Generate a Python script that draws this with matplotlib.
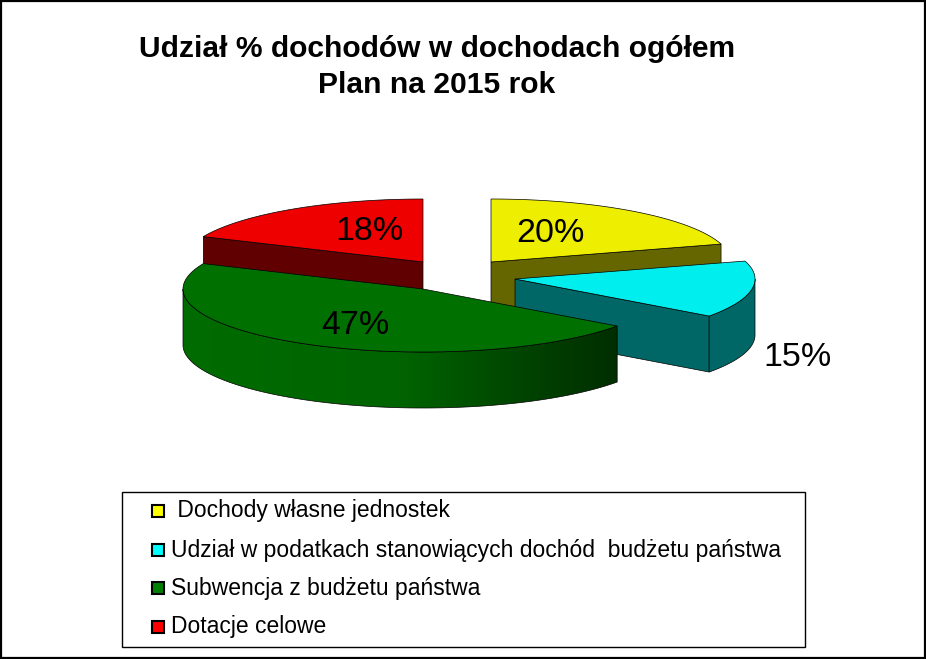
import numpy as np
import matplotlib
matplotlib.use("Agg")
import matplotlib.pyplot as plt
from matplotlib.colors import LinearSegmentedColormap
from matplotlib.patches import Polygon, Rectangle

plt.rcParams["font.family"] = ["Liberation Sans", "DejaVu Sans"]

title_lines = ["Udział % dochodów w dochodach ogółem", "Plan na 2015 rok"]
labels = [
    " Dochody własne jednostek",
    "Udział w podatkach stanowiących dochód  budżetu państwa",
    "Subwencja z budżetu państwa",
    "Dotacje celowe",
]
shares = [20.4, 14.6, 46.6, 18.4]
top_colors = ["#eeee00", "#00eeee", "#007000", "#ee0000"]
wall_colors = ["#666600", "#006666", "#006c00", "#600000"]
swatch_colors = ["#ffff00", "#00ffff", "#008000", "#ff0000"]

# pie geometry, in pixels of the output image
RX, RY = 240, 63
DEPTH = 56
centers = [(491, 262), (515, 279), (423, 289), (423, 262)]
pct_pos = [(550, 233), (797, 357), (355, 326), (369, 232)]
draw_order = [3, 0, 1, 2]


def arc(center, start, stop):
    # angles in degrees, clockwise from the top of the ellipse
    t = np.radians(np.linspace(start, stop, 120))
    return np.column_stack([center[0] + RX * np.sin(t), center[1] - RY * np.cos(t)])


def wall_between(ax, pts, color):
    lowered = pts[::-1] + [0, DEPTH]
    poly = Polygon(np.vstack([pts, lowered]), closed=True, facecolor=color,
                   edgecolor="black", linewidth=0.5)
    ax.add_patch(poly)
    return poly


def draw_slice(ax, i, start, stop):
    center = centers[i]
    # flat cut faces that look towards the viewer
    for angle, visible in ((start, np.sin(np.radians(start)) < -1e-6),
                           (stop, np.sin(np.radians(stop)) > 1e-6)):
        if visible:
            edge = np.array([center, arc(center, angle, angle)[0]], dtype=float)
            wall_between(ax, edge, wall_colors[i])

    # rim, only the front half of the ellipse shows
    lo, hi = max(start, 90), min(stop, 270)
    if lo < hi:
        pts = arc(center, lo, hi)
        if i == 2:
            poly = wall_between(ax, pts, "none")
            shade = LinearSegmentedColormap.from_list(
                "rim", [(0, "#006c00"), (0.5, "#006400"), (0.8, "#004200"), (1, "#002e00")])
            x0, x1 = pts[:, 0].min(), pts[:, 0].max()
            y0, y1 = pts[:, 1].min(), pts[:, 1].max() + DEPTH
            img = ax.imshow(np.linspace(0, 1, 256)[None, :], cmap=shade, aspect="auto",
                            extent=(x0, x1, y1, y0), zorder=poly.get_zorder())
            img.set_clip_path(poly)
            poly.set_zorder(poly.get_zorder() + 0.01)
        else:
            wall_between(ax, pts, wall_colors[i])

    top = np.vstack([[center], arc(center, start, stop)])
    z = 2 + i * 0.1
    ax.add_patch(Polygon(top, closed=True, facecolor=top_colors[i], edgecolor="black",
                         linewidth=0.5, zorder=z))


def main():
    fig = plt.figure(figsize=(9.26, 6.59), dpi=100)
    ax = fig.add_axes([0, 0, 1, 1])
    ax.set_xlim(0, 926)
    ax.set_ylim(659, 0)
    ax.axis("off")

    ax.add_patch(Rectangle((0.5, 0.5), 924.5, 657, fill=False, edgecolor="black", linewidth=1.6))

    for line, y in zip(title_lines, (49, 85)):
        ax.text(437, y, line, ha="center", va="center", fontsize=21.6, fontweight="bold")

    ends = np.cumsum(shares) * 3.6
    starts = ends - np.array(shares) * 3.6
    for i in draw_order:
        draw_slice(ax, i, starts[i], ends[i])

    for i, share in enumerate(shares):
        ax.text(*pct_pos[i], f"{share:.0f}%", ha="center", va="center", fontsize=24.5, zorder=5)

    # legend box
    ax.add_patch(Rectangle((122, 492), 683, 155, facecolor="white", edgecolor="black",
                           linewidth=1, zorder=6))
    rows = [511, 550, 588, 627]
    for i, (label, row) in enumerate(zip(labels, rows)):
        ax.add_patch(Rectangle((152, row - 6), 12, 12, facecolor=swatch_colors[i],
                               edgecolor="black", linewidth=1.5, zorder=7))
        ax.text(171, row, label, ha="left", va="center", fontsize=16.5, zorder=7)

    fig.savefig("out.png", dpi=100)


if __name__ == "__main__":
    main()
